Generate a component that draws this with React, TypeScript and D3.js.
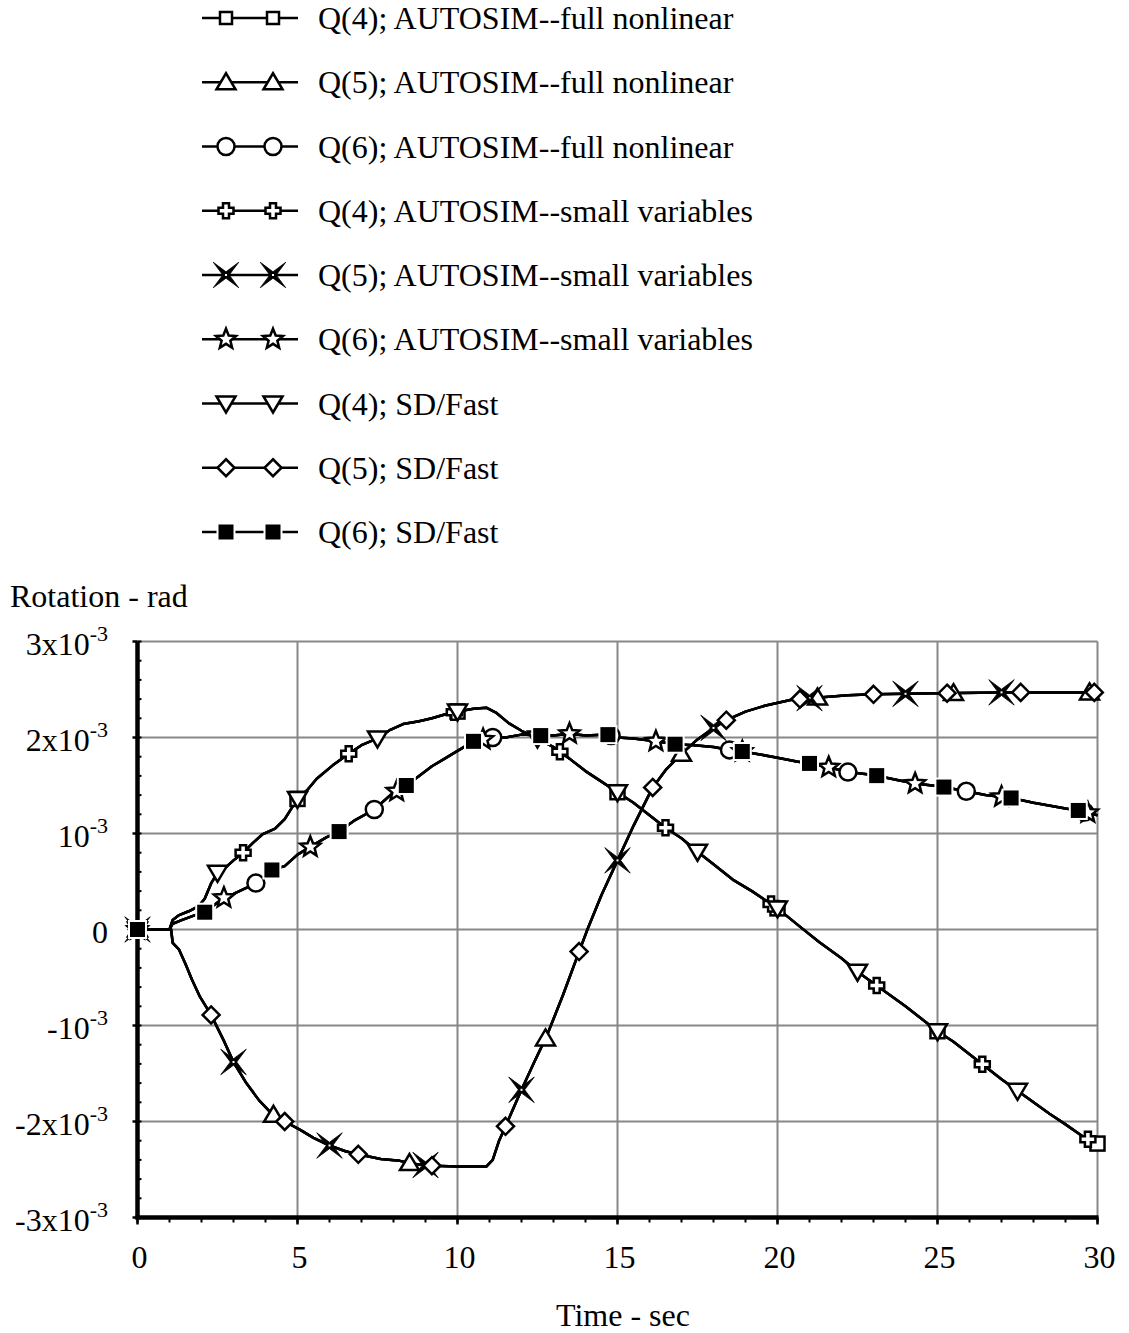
import React from 'react'
import * as d3 from 'd3'

// rotation curves: [time (sec), rotation (x10^-3 rad)]
const q4Curve: [number, number][] = [
  [0, 0], [1.0, 0], [1.1, 0.1], [1.3, 0.15], [1.6, 0.19], [1.9, 0.24], [2.1, 0.32], [2.3, 0.48],
  [2.5, 0.59], [2.8, 0.66], [3.0, 0.72], [3.3, 0.8], [3.6, 0.9], [3.9, 0.99], [4.3, 1.05],
  [4.6, 1.15], [5.0, 1.36], [5.3, 1.45], [5.6, 1.57], [6.1, 1.71], [6.6, 1.83], [7.0, 1.92],
  [7.5, 1.99], [7.9, 2.08], [8.3, 2.14], [8.8, 2.17], [9.2, 2.2], [9.6, 2.24], [10.0, 2.27],
  [10.5, 2.3], [10.9, 2.31], [11.2, 2.26], [11.6, 2.15], [12.0, 2.07], [12.5, 1.99], [13.0, 1.9],
  [13.5, 1.78], [14.0, 1.65], [14.5, 1.54], [15.0, 1.43], [15.5, 1.32], [16.0, 1.19], [16.5, 1.06],
  [17.0, 0.95], [17.5, 0.81], [18.0, 0.68], [18.6, 0.52], [19.2, 0.4], [20.0, 0.22], [20.7, 0.03],
  [21.3, -0.13], [22.0, -0.3], [22.5, -0.44], [23.0, -0.56], [23.5, -0.68], [24.0, -0.8],
  [24.5, -0.93], [25.0, -1.06], [25.5, -1.17], [26.0, -1.3], [26.5, -1.43], [27.0, -1.56],
  [27.5, -1.68], [28.0, -1.8], [28.5, -1.92], [29.0, -2.03], [29.6, -2.17], [30.0, -2.23],
]

const q5Curve: [number, number][] = [
  [0, 0], [1.05, 0], [1.1, -0.14], [1.3, -0.21], [1.5, -0.36], [1.7, -0.52], [1.95, -0.7],
  [2.3, -0.89], [2.7, -1.16], [3.0, -1.38], [3.4, -1.6], [3.8, -1.78], [4.2, -1.92], [4.6, -2.0],
  [5.1, -2.09], [5.5, -2.17], [6.0, -2.25], [6.5, -2.31], [7.0, -2.35], [7.6, -2.39], [8.2, -2.41],
  [8.6, -2.44], [9.2, -2.46], [10.0, -2.47], [10.9, -2.47], [11.1, -2.4], [11.3, -2.2],
  [11.5, -2.05], [12.0, -1.67], [12.4, -1.38], [12.8, -1.1], [13.3, -0.68], [13.8, -0.23],
  [14.06, 0], [14.5, 0.36], [15.0, 0.72], [15.5, 1.08], [16.1, 1.48], [16.5, 1.66], [17.0, 1.83],
  [17.5, 1.98], [18.0, 2.1], [18.4, 2.18], [19.0, 2.27], [19.6, 2.33], [20.4, 2.39], [21.0, 2.41],
  [22.2, 2.44], [23.0, 2.45], [25.0, 2.46], [27.0, 2.47], [30.0, 2.47],
]

const q6Curve: [number, number][] = [
  [0, 0], [1.0, 0], [1.1, 0.06], [1.4, 0.1], [1.8, 0.15], [2.1, 0.18], [2.5, 0.28], [2.7, 0.33],
  [3.0, 0.37], [3.5, 0.45], [3.8, 0.5], [4.2, 0.62], [4.6, 0.66], [5.0, 0.78], [5.4, 0.86],
  [5.9, 0.96], [6.3, 1.02], [6.8, 1.14], [7.4, 1.25], [7.9, 1.4], [8.4, 1.5], [8.8, 1.6],
  [9.2, 1.7], [9.6, 1.78], [10.0, 1.86], [10.5, 1.96], [11.1, 2.0], [11.5, 2.0], [12.0, 2.03],
  [12.6, 2.02], [13.0, 2.02], [13.5, 2.04], [14.0, 2.02], [14.7, 2.03], [15.0, 2.0], [15.5, 1.99],
  [16.2, 1.96], [16.8, 1.93], [17.4, 1.92], [18.0, 1.9], [18.5, 1.87], [19.0, 1.85], [19.5, 1.82],
  [20.0, 1.79], [20.6, 1.75], [21.0, 1.73], [21.6, 1.69], [22.2, 1.64], [23.0, 1.61], [23.7, 1.56],
  [24.3, 1.52], [25.1, 1.49], [25.9, 1.44], [26.5, 1.4], [27.3, 1.37], [28.0, 1.32], [29.0, 1.26],
  [29.4, 1.24], [30.0, 1.19],
]

// times where each series shows its marker
const q4FullMarks = [0, 5, 10, 15, 20, 25, 30]
const q5FullMarks = [0, 4.25, 8.5, 12.75, 17, 21.25, 25.5, 29.75]
const q6FullMarks = [0, 3.7, 7.4, 11.1, 14.8, 18.5, 22.2, 25.9, 29.6]
const q4SmallMarks = [0, 3.3, 6.6, 9.9, 13.2, 16.5, 19.8, 23.1, 26.4, 29.7]
const q5SmallMarks = [0, 3, 6, 9, 12, 15, 18, 21, 24, 27]
const q6SmallMarks = [0, 2.7, 5.4, 8.1, 10.8, 13.5, 16.2, 18.9, 21.6, 24.3, 27, 29.7]
const q4FastMarks = [0, 2.5, 5, 7.5, 10, 12.5, 15, 17.5, 20, 22.5, 25, 27.5]
const q5FastMarks = [0, 2.3, 4.6, 6.9, 9.2, 11.5, 13.8, 16.1, 18.4, 20.7, 23, 25.3, 27.6, 29.9]
const q6FastMarks = [0, 2.1, 4.2, 6.3, 8.4, 10.5, 12.6, 14.7, 16.8, 18.9, 21, 23.1, 25.2, 27.3, 29.4]

const seriesLabels = [
  'Q(4); AUTOSIM--full nonlinear',
  'Q(5); AUTOSIM--full nonlinear',
  'Q(6); AUTOSIM--full nonlinear',
  'Q(4); AUTOSIM--small variables',
  'Q(5); AUTOSIM--small variables',
  'Q(6); AUTOSIM--small variables',
  'Q(4); SD/Fast',
  'Q(5); SD/Fast',
  'Q(6); SD/Fast',
]

const xTicks = [0, 5, 10, 15, 20, 25, 30]
const yTicks = [3, 2, 1, 0, -1, -2, -3]
const yTickLabels: [string, string][] = [
  ['3x10', '-3'], ['2x10', '-3'], ['10', '-3'], ['0', ''], ['-10', '-3'], ['-2x10', '-3'], ['-3x10', '-3'],
]

type Shape = 'square' | 'triUp' | 'circle' | 'cross' | 'star4' | 'star5' | 'triDown' | 'diamond' | 'filled'

const series: { label: string; curve: [number, number][]; marks: number[]; shape: Shape }[] = [
  { label: seriesLabels[0], curve: q4Curve, marks: q4FullMarks, shape: 'square' },
  { label: seriesLabels[1], curve: q5Curve, marks: q5FullMarks, shape: 'triUp' },
  { label: seriesLabels[2], curve: q6Curve, marks: q6FullMarks, shape: 'circle' },
  { label: seriesLabels[3], curve: q4Curve, marks: q4SmallMarks, shape: 'cross' },
  { label: seriesLabels[4], curve: q5Curve, marks: q5SmallMarks, shape: 'star4' },
  { label: seriesLabels[5], curve: q6Curve, marks: q6SmallMarks, shape: 'star5' },
  { label: seriesLabels[6], curve: q4Curve, marks: q4FastMarks, shape: 'triDown' },
  { label: seriesLabels[7], curve: q5Curve, marks: q5FastMarks, shape: 'diamond' },
  { label: seriesLabels[8], curve: q6Curve, marks: q6FastMarks, shape: 'filled' },
]

const FONT = "'Liberation Serif', 'Times New Roman', serif"

// position of a marker on its own curve
function valueAt(curve: [number, number][], t: number) {
  const i = d3.bisector((d: [number, number]) => d[0]).left(curve, t)
  if (i <= 0) return curve[0][1]
  if (i >= curve.length) return curve[curve.length - 1][1]
  const [t0, v0] = curve[i - 1]
  const [t1, v1] = curve[i]
  return v0 + ((v1 - v0) * (t - t0)) / (t1 - t0)
}

function starPath(points: number, outer: number, inner: number, rot: number) {
  const pts: string[] = []
  for (let k = 0; k < points * 2; k++) {
    const r = k % 2 === 0 ? outer : inner
    const a = rot + (k * Math.PI) / points
    pts.push(`${(r * Math.sin(a)).toFixed(2)},${(-r * Math.cos(a)).toFixed(2)}`)
  }
  return 'M' + pts.join('L') + 'Z'
}

function Marker({ shape, x, y, small }: { shape: Shape; x: number; y: number; small?: boolean }) {
  const sw = 2.5
  const common = { fill: '#fff', stroke: '#000', strokeWidth: sw, strokeLinejoin: 'miter' as const }
  const tr = `translate(${x},${y})`
  switch (shape) {
    case 'square': {
      const h = small ? 6 : 7
      return <rect transform={tr} x={-h} y={-h} width={h * 2} height={h * 2} {...common} />
    }
    case 'triUp':
      return <path transform={tr} d="M0,-9L9.5,7L-9.5,7Z" {...common} />
    case 'triDown':
      return <path transform={tr} d="M0,9L9.5,-7L-9.5,-7Z" {...common} />
    case 'circle':
      return <circle transform={tr} r={8.5} {...common} />
    case 'diamond':
      return <path transform={tr} d="M0,-8.5L8.5,0L0,8.5L-8.5,0Z" {...common} />
    case 'cross': {
      const a = 7.5, w = 3
      const d = `M${-w},${-a}H${w}V${-w}H${a}V${w}H${w}V${a}H${-w}V${w}H${-a}V${-w}H${-w}Z`
      return <path transform={tr} d={d} {...common} />
    }
    case 'star5':
      return <path transform={tr} d={starPath(5, 10.5, 4.6, 0)} {...common} />
    case 'star4':
      return (
        <g transform={tr}>
          <path d={starPath(4, 18, 3.2, Math.PI / 4)} fill="#000" stroke="#000" strokeWidth={0.8} />
          <rect x={-1} y={-1} width={2} height={2} fill="#fff" />
        </g>
      )
    case 'filled':
      return (
        <g transform={tr}>
          <rect x={-9.5} y={-9.5} width={19} height={19} fill="#fff" />
          <rect x={-7.5} y={-7.5} width={15} height={15} fill="#000" />
        </g>
      )
  }
}

export default function App() {
  const width = 1129
  const height = 1333
  const x = d3.scaleLinear().domain([0, 30]).range([137.5, 1097.5])
  const y = d3.scaleLinear().domain([-3, 3]).range([1217.5, 641.5])
  const line = d3.line<[number, number]>().x(d => x(d[0])).y(d => y(d[1]))

  const minorY = d3.range(-3, 3.001, 0.2)
  const minorX = d3.range(0, 31, 1)

  return (
    <svg
      width={width}
      height={height}
      style={{ position: 'absolute', left: 0, top: 0, background: '#fff' }}
      fontFamily={FONT}
    >
      {/* legend */}
      {series.map((s, i) => {
        const ly = 18 + i * 64.25
        return (
          <g key={s.label}>
            <line x1={202} x2={298} y1={ly} y2={ly} stroke="#000" strokeWidth={2.5} />
            <Marker shape={s.shape} x={226} y={ly} small />
            <Marker shape={s.shape} x={273} y={ly} small />
            <text x={318} y={ly + 11} fontSize={32} fill="#000">{s.label}</text>
          </g>
        )
      })}

      {/* grid */}
      {xTicks.filter(t => t > 0).map(t => (
        <line key={'gx' + t} x1={x(t)} x2={x(t)} y1={y(3)} y2={y(-3)} stroke="#888" strokeWidth={2} />
      ))}
      {yTicks.filter(v => v > -3).map(v => (
        <line key={'gy' + v} x1={x(0)} x2={x(30)} y1={y(v)} y2={y(v)} stroke="#888" strokeWidth={2} />
      ))}

      {/* axes */}
      {minorY.map(v => (
        <line key={'my' + v.toFixed(1)} x1={x(0)} x2={x(0) + 4} y1={y(v)} y2={y(v)} stroke="#000" strokeWidth={2} />
      ))}
      {yTicks.map(v => (
        <line key={'ty' + v} x1={x(0) - 5} x2={x(0)} y1={y(v)} y2={y(v)} stroke="#000" strokeWidth={2.5} />
      ))}
      {minorX.map(t => (
        <line key={'mx' + t} x1={x(t)} x2={x(t)} y1={y(-3)} y2={y(-3) + 5} stroke="#000" strokeWidth={2} />
      ))}
      {xTicks.map(t => (
        <line key={'tx' + t} x1={x(t)} x2={x(t)} y1={y(-3)} y2={y(-3) + 7} stroke="#000" strokeWidth={2.5} />
      ))}
      <line x1={x(0)} x2={x(0)} y1={y(3)} y2={y(-3) + 2} stroke="#000" strokeWidth={4.5} />
      <line x1={x(0) - 2} x2={x(30) + 1} y1={y(-3)} y2={y(-3)} stroke="#000" strokeWidth={4.5} />

      {/* series lines */}
      {series.map(s => (
        <path key={'l' + s.label} d={line(s.curve) || ''} fill="none" stroke="#000" strokeWidth={2.5} strokeLinejoin="round" />
      ))}
      {/* series markers */}
      {series.map(s => (
        <g key={'m' + s.label}>
          {s.marks.map(t => (
            <Marker key={t} shape={s.shape} x={x(t)} y={y(valueAt(s.curve, t))} />
          ))}
        </g>
      ))}

      {/* tick labels */}
      {yTicks.map((v, i) => (
        <text key={'ly' + v} x={108} y={y(v) + 13} fontSize={32} textAnchor="end" fill="#000">
          {yTickLabels[i][0]}
          {yTickLabels[i][1] && (
            <tspan fontSize={22} dy={-14}>{yTickLabels[i][1]}</tspan>
          )}
        </text>
      ))}
      {xTicks.map(t => (
        <text key={'lx' + t} x={x(t) + 2} y={1268} fontSize={32} textAnchor="middle" fill="#000">{t}</text>
      ))}

      {/* axis titles */}
      <text x={10} y={607} fontSize={32} fill="#000">Rotation - rad</text>
      <text x={623} y={1326} fontSize={32} textAnchor="middle" fill="#000">Time - sec</text>
    </svg>
  )
}
